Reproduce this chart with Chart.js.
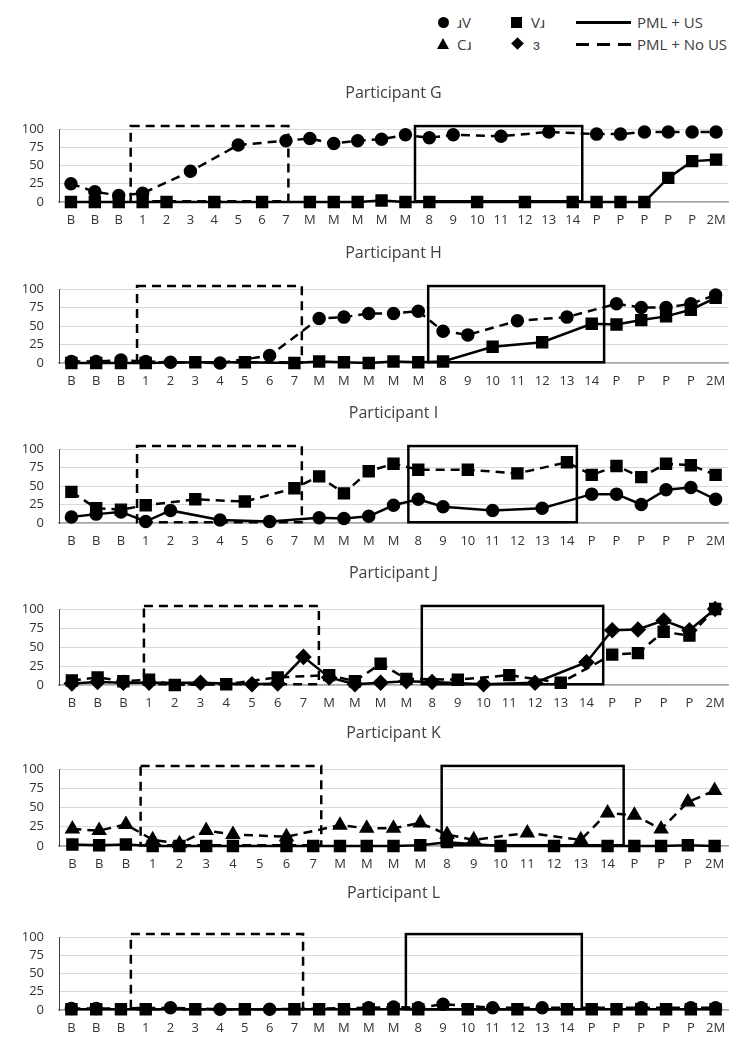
<!DOCTYPE html>
<html>
<head>
<meta charset="utf-8">
<script src="https://cdn.jsdelivr.net/npm/chart.js@4.4.0/dist/chart.umd.min.js"></script>
<style>
  body { margin: 0; background: #fff; font-family: "Open Sans", sans-serif; }
  #page { position: relative; width: 745px; height: 1049px; overflow: hidden; }
  #page canvas { position: absolute; left: 0; }
  .lg { position: absolute; font-size: 15px; color: #404040; line-height: 18px; }
  .mk { position: absolute; background: #000; }
</style>
</head>
<body>
<div id="page">
  <!-- legend -->
  <div class="mk" style="left:438px;top:17px;width:11px;height:11px;border-radius:50%"></div>
  <div class="lg" style="left:457px;top:13px">ɹV</div>
  <div class="mk" style="left:511px;top:17px;width:11px;height:11px"></div>
  <div class="lg" style="left:531px;top:13px">Vɹ</div>
  <div class="mk" style="left:576px;top:21px;width:55px;height:3px"></div>
  <div class="lg" style="left:637px;top:13px">PML + US</div>

  <div style="position:absolute;left:437px;top:38px;width:0;height:0;border-left:6px solid transparent;border-right:6px solid transparent;border-bottom:11px solid #000"></div>
  <div class="lg" style="left:457px;top:35px">Cɹ</div>
  <div class="mk" style="left:513px;top:39px;width:9px;height:9px;transform:rotate(45deg)"></div>
  <div class="lg" style="left:533px;top:35px">ɜ</div>
  <div style="position:absolute;left:576px;top:43px;width:55px;height:3px;background:repeating-linear-gradient(to right,#000 0 13px,transparent 13px 21px)"></div>
  <div class="lg" style="left:637px;top:35px">PML + No US</div>
</div>

<script>
// category labels per participant
const labelsG = ['B','B','B','1','2','3','4','5','6','7','M','M','M','M','M','8','9','10','11','12','13','14','P','P','P','P','P','2M'];
const labelsH = ['B','B','B','1','2','3','4','5','6','7','M','M','M','M','M','8','9','10','11','12','13','14','P','P','P','P','2M'];
const labelsI = ['B','B','B','1','2','3','4','5','6','7','M','M','M','M','8','9','10','11','12','13','14','P','P','P','P','P','2M'];
const labelsJ = ['B','B','B','1','2','3','4','5','6','7','M','M','M','M','8','9','10','11','12','13','14','P','P','P','P','2M'];
const labelsK = ['B','B','B','1','2','3','4','5','6','7','M','M','M','M','8','9','10','11','12','13','14','P','P','P','2M'];
const labelsL = ['B','B','B','1','2','3','4','5','6','7','M','M','M','M','8','9','10','11','12','13','14','P','P','P','P','P','2M'];

// values (% correct) - null = not probed that session
const gCircle = [25,14,9,12,null,42,null,78,null,84,87,80,84,86,92,88,92,null,90,null,96,null,93,93,96,96,96,96];
const gSquare = [0,0,0,0,0,null,0,null,0,null,0,0,0,2,0,0,null,0,null,0,null,0,0,0,0,33,56,58];

const hCircle = [2,2,4,2,1,null,0,null,10,null,60,62,67,67,70,43,38,null,57,null,62,null,80,75,75,80,92];
const hSquare = [0,0,0,0,null,1,null,1,null,0,2,1,0,2,1,2,null,22,null,28,null,53,52,58,63,72,88];

const iSquare = [42,20,18,24,null,32,null,29,null,47,63,40,70,80,72,null,72,null,67,null,82,65,77,62,80,78,65];
const iCircle = [8,12,15,2,17,null,4,null,2,null,7,6,9,24,32,22,null,17,null,20,null,39,39,25,45,48,32];

const jDiamond = [2,4,3,3,null,3,null,1,2,37,10,1,3,5,4,null,1,null,3,null,30,72,73,85,72,100];
const jSquare = [6,10,5,7,0,null,1,null,10,null,13,5,28,8,null,7,null,13,null,3,null,40,42,70,65,100];

const kTriangle = [22,20,28,8,3,20,15,null,12,null,27,23,23,30,15,8,null,17,null,8,43,40,22,57,72];
const kSquare = [2,1,2,0,0,0,0,null,0,0,0,0,0,1,5,null,0,null,0,null,0,0,0,1,0];

const lCircle = [2,2,null,null,3,null,1,null,1,null,null,null,3,4,3,8,null,3,null,3,null,null,null,3,null,3,3];
const lSquare = [1,1,1,1,null,1,null,1,null,1,1,1,1,1,1,null,1,null,1,null,1,1,1,1,1,1,1];

const yTicks = [0, 25, 50, 75, 100];

// marker look per stimulus set
const markers = {
  circle:   { pointStyle: 'circle',   pointRadius: 5.5 },
  square:   { pointStyle: 'rect',     pointRadius: 7 },
  triangle: { pointStyle: 'triangle', pointRadius: 6.5 },
  diamond:  { pointStyle: 'rectRot',  pointRadius: 6.5 }
};

function series(values, marker, dashed) {
  return Object.assign({
    data: values,
    borderColor: '#000',
    backgroundColor: '#000',
    pointBorderColor: '#000',
    pointBackgroundColor: '#000',
    borderWidth: 2.5,
    borderDash: dashed ? [9, 6] : [],
    spanGaps: true,
    tension: 0,
    clip: false
  }, markers[marker]);
}

// boxes around the training phases (category index units)
const panels = [
  { id: 'G', top: 78,  chartTop: 51, chartBottom: 124, labels: labelsG,
    datasets: [series(gSquare, 'square', false), series(gCircle, 'circle', true)],
    boxes: [{ from: 2.5, to: 9.1, dashed: true }, { from: 14.4, to: 21.4, dashed: false }] },
  { id: 'H', top: 238, chartTop: 51, chartBottom: 125, labels: labelsH,
    datasets: [series(hSquare, 'square', false), series(hCircle, 'circle', true)],
    boxes: [{ from: 2.65, to: 9.3, dashed: true }, { from: 14.4, to: 21.5, dashed: false }] },
  { id: 'I', top: 398, chartTop: 51, chartBottom: 125, labels: labelsI,
    datasets: [series(iCircle, 'circle', false), series(iSquare, 'square', true)],
    boxes: [{ from: 2.65, to: 9.3, dashed: true }, { from: 13.6, to: 20.4, dashed: false }] },
  { id: 'J', top: 558, chartTop: 51, chartBottom: 127, labels: labelsJ,
    datasets: [series(jDiamond, 'diamond', false), series(jSquare, 'square', true)],
    boxes: [{ from: 2.8, to: 9.6, dashed: true }, { from: 13.6, to: 20.65, dashed: false }] },
  { id: 'K', top: 718, chartTop: 51, chartBottom: 128, labels: labelsK,
    datasets: [series(kSquare, 'square', false), series(kTriangle, 'triangle', true)],
    boxes: [{ from: 2.55, to: 9.3, dashed: true }, { from: 13.8, to: 20.6, dashed: false }] },
  { id: 'L', top: 878, chartTop: 59, chartBottom: 132, labels: labelsL,
    datasets: [series(lSquare, 'square', false), series(lCircle, 'circle', true)],
    boxes: [{ from: 2.4, to: 9.35, dashed: true }, { from: 13.5, to: 20.6, dashed: false }] }
];

// phase boxes + centered title
const panelDeco = {
  id: 'panelDeco',
  afterDatasetsDraw(chart, args, opts) {
    const { ctx, chartArea, scales: { x, y } } = chart;
    ctx.save();
    ctx.strokeStyle = '#000';
    ctx.lineWidth = 2.5;
    opts.boxes.forEach(b => {
      const l = x.getPixelForValue(b.from);
      const r = x.getPixelForValue(b.to);
      const t = y.getPixelForValue(104);
      const btm = y.getPixelForValue(1);
      ctx.setLineDash(b.dashed ? [9, 6] : []);
      ctx.strokeRect(l, t, r - l, btm - t);
    });
    ctx.setLineDash([]);
    ctx.fillStyle = '#404040';
    ctx.font = '16px "Open Sans"';
    ctx.textAlign = 'center';
    ctx.textBaseline = 'middle';
    ctx.fillText('Participant ' + opts.name, (chartArea.left + chartArea.right) / 2, 15);
    ctx.restore();
  }
};

const page = document.getElementById('page');

panels.forEach(p => {
  const cv = document.createElement('canvas');
  const h = p.chartBottom + 36;
  cv.width = 745;
  cv.height = h;
  cv.style.top = p.top + 'px';
  cv.style.width = '745px';
  cv.style.height = h + 'px';
  page.appendChild(cv);

  new Chart(cv.getContext('2d'), {
    type: 'line',
    data: { labels: p.labels, datasets: p.datasets },
    options: {
      responsive: false,
      animation: false,
      devicePixelRatio: 1,
      layout: { padding: { top: p.chartTop, right: 17, left: 0, bottom: 0 } },
      plugins: {
        legend: { display: false },
        tooltip: { enabled: false },
        panelDeco: { boxes: p.boxes, name: p.id }
      },
      scales: {
        x: {
          offset: true,
          grid: { display: false, drawTicks: false },
          border: { display: true, color: '#a6a6a6', width: 1.5 },
          ticks: {
            autoSkip: false, maxRotation: 0, padding: 10,
            color: '#333', font: { family: 'Open Sans', size: 13 }
          },
          afterFit: s => { s.height = 36; }
        },
        y: {
          min: 0, max: 100,
          afterBuildTicks: s => { s.ticks = yTicks.map(v => ({ value: v })); },
          grid: { color: '#d9d9d9', lineWidth: 1, drawTicks: false },
          border: { display: true, color: '#404040', width: 1 },
          ticks: {
            autoSkip: false, padding: 15, color: '#333',
            font: { family: 'Open Sans', size: 13, lineHeight: 1 }
          },
          afterFit: s => { s.width = 59; }
        }
      }
    },
    plugins: [panelDeco]
  });
});
</script>
</body>
</html>
